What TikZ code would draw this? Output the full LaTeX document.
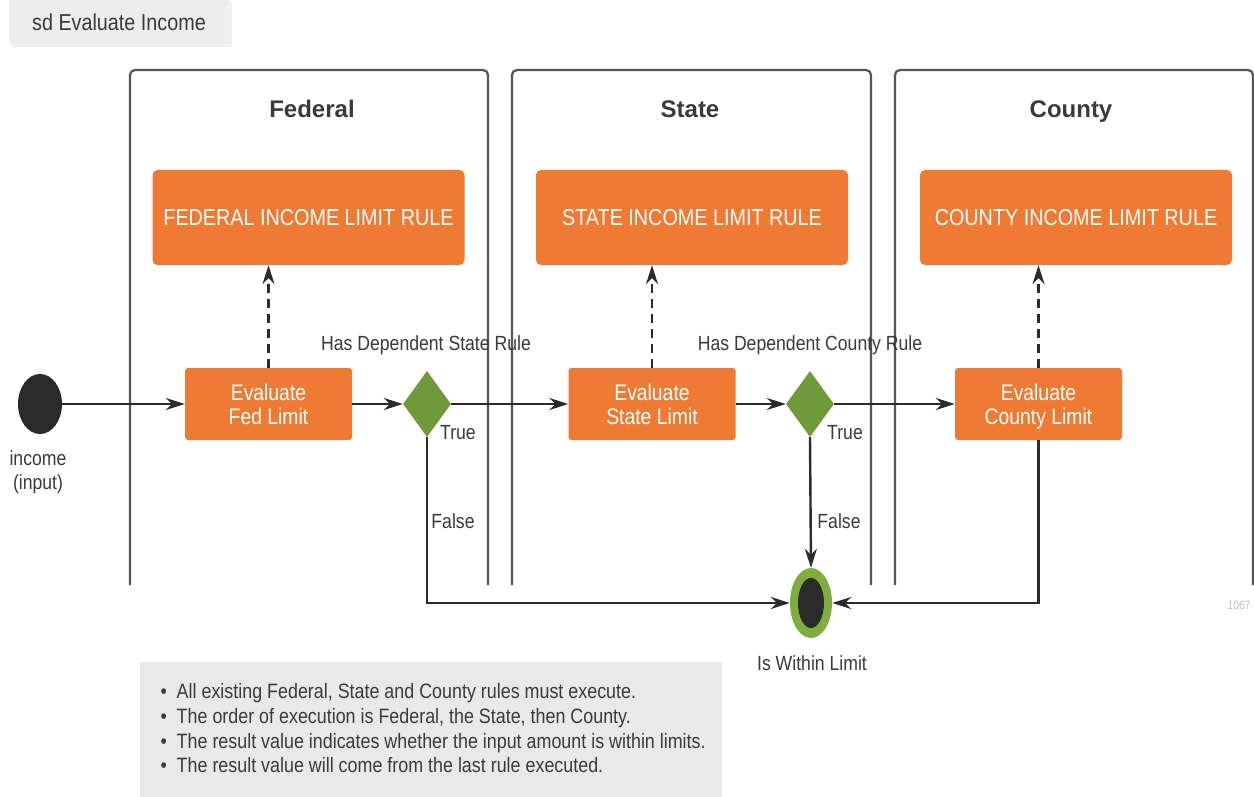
\documentclass[tikz,border=0pt]{standalone}
\usepackage{fontspec}
\setmainfont{Liberation Sans}
\newfontfamily\narrowfont[FakeStretch=0.86]{Liberation Sans}
\usetikzlibrary{arrows.meta,shapes.geometric}
\definecolor{laneline}{HTML}{555555}
\definecolor{ruleorange}{HTML}{EE7A33}
\definecolor{decgreen}{HTML}{6F9A3B}
\definecolor{endgreen}{HTML}{7FAE3E}
\definecolor{nodeblack}{HTML}{2B2B2B}
\definecolor{textgray}{HTML}{3A3A3A}
\definecolor{notegray}{HTML}{E9E9E9}
\tikzset{
  lane/.style={draw=laneline, line width=2.2pt, rounded corners=5pt},
  lanetitle/.style={anchor=base, font=\fontsize{24}{28}\selectfont\bfseries, text=textgray},
  rulebox/.style={fill=ruleorange, rounded corners=5pt, minimum width=312pt, minimum height=95pt,
    text=white, font=\narrowfont\fontsize{23}{27}\selectfont},
  evalbox/.style={fill=ruleorange, rounded corners=3pt, minimum width=167pt, minimum height=72pt,
    text=white, align=center, font=\narrowfont\fontsize{22.5}{24}\selectfont},
  decision/.style={diamond, fill=decgreen, minimum width=48pt, minimum height=66pt, inner sep=0pt, aspect=0.73},
  flow/.style={draw=nodeblack, line width=2.4pt, -{Stealth[length=19pt,width=12pt]}},
  dep/.style={draw=nodeblack, line width=2.4pt, dash pattern=on 9pt off 6pt, -{Stealth[length=19pt,width=12pt]}},
  lbl/.style={text=textgray, font=\narrowfont\fontsize{20.5}{24}\selectfont},
}
\begin{document}
\begin{tikzpicture}[x=1pt, y=-1pt]
\useasboundingbox (0,0) rectangle (1254,797);
\fill[white] (0,0) rectangle (1254,797);

% frame title tab
\fill[black!6] (12,2) rectangle (232,47);
\fill[notegray!80] (9,0) rectangle (229,44);
\node[text=textgray, font=\narrowfont\fontsize{23}{26}\selectfont] (title) at (119,22) {sd Evaluate Income};

% swimlanes (open at the bottom)
\draw[lane] (130,585) -- (130,70) -- (488,70) -- (488,585);
\draw[lane] (512,585) -- (512,70) -- (871,70) -- (871,585);
\draw[lane] (895,585) -- (895,70) -- (1253,70) -- (1253,585);
\node[lanetitle] (tfed) at (312,118) {Federal};
\node[lanetitle] (tstate) at (690,118) {State};
\node[lanetitle] (tcounty) at (1071,118) {County};

% rule boxes
\node[rulebox] (rfed) at (308.5,217.5) {FEDERAL INCOME LIMIT RULE};
\node[rulebox] (rstate) at (692,217.5) {STATE INCOME LIMIT RULE};
\node[rulebox] (rcounty) at (1076,217.5) {COUNTY INCOME LIMIT RULE};

% evaluation steps
\node[evalbox] (efed) at (268.5,404) {\strut Evaluate\\\smash{Fed Limit}};
\node[evalbox] (estate) at (652,404) {\strut Evaluate\\\smash{State Limit}};
\node[evalbox] (ecounty) at (1038.5,404) {\strut Evaluate\\\smash{County Limit}};

% start node
\node[ellipse, fill=nodeblack, minimum width=44pt, minimum height=60pt, inner sep=0pt] (start) at (40,404) {};
\node[lbl, align=center, font=\narrowfont\fontsize{20.5}{24}\selectfont] (startlbl) at (38,472) {income\\(input)};

% decisions
\node[decision] (d1) at (427,404) {};
\node[decision] (d2) at (810,404) {};

% final node
\node[ellipse, fill=endgreen, minimum width=42pt, minimum height=70pt, inner sep=0pt] (fin) at (811,603) {};
\node[ellipse, fill=nodeblack, minimum width=26pt, minimum height=50pt, inner sep=0pt] (fincore) at (811,603) {};
\node[lbl] (finlbl) at (812,663) {Is Within Limit};

% dependency arrows
\draw[dep] (efed.north) -- (rfed.south -| efed.north);
\draw[dep] (estate.north) -- (rstate.south -| estate.north);
\draw[dep] (ecounty.north) -- (rcounty.south -| ecounty.north);

% control flow
\draw[flow] (start.east) -- (efed.west);
\draw[flow] (efed.east) -- (d1.west);
\draw[flow] (d1.east) -- (estate.west);
\draw[flow] (estate.east) -- (d2.west);
\draw[flow] (d2.east) -- (ecounty.west);
\draw[flow] (d1.south) |- (fin.west);
\draw[flow] (d2.south) -- (fin.north);
\draw[flow] (ecounty.south) |- (fin.east);

% guard and condition labels
\node[lbl] (c1) at (426,345) {Has Dependent State Rule};
\node[lbl] (c2) at (810,345) {Has Dependent County Rule};
\node[lbl] (t1) at (458,433) {True};
\node[lbl] (f1) at (453,521) {False};
\node[lbl] (t2) at (845,433) {True};
\node[lbl] (f2) at (839,521) {False};

% figure number
\node[text=black!25, font=\narrowfont\fontsize{12}{14}\selectfont] (fignum) at (1239,605) {1067};

% note
\fill[notegray] (140,662) rectangle (722,797);
\node[text=textgray, anchor=north west, align=left, font=\narrowfont\fontsize{20.8}{24.7}\selectfont] (note) at (157,680)
  {\textbullet\ \ All existing Federal, State and County rules must execute.\\
   \textbullet\ \ The order of execution is Federal, the State, then County.\\
   \textbullet\ \ The result value indicates whether the input amount is within limits.\\
   \textbullet\ \ The result value will come from the last rule executed.};
\end{tikzpicture}
\end{document}
